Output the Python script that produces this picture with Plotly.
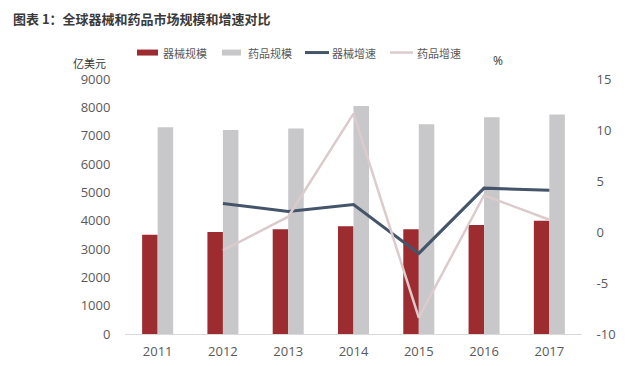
import plotly.graph_objects as go
from plotly.subplots import make_subplots

years = ["2011", "2012", "2013", "2014", "2015", "2016", "2017"]
device_size = [3500, 3600, 3700, 3800, 3700, 3850, 4000]
drug_size = [7300, 7200, 7250, 8050, 7400, 7650, 7750]
device_growth = [None, 2.8, 2.0, 2.7, -2.1, 4.3, 4.1]
drug_growth = [None, -1.8, 1.5, 11.6, -8.4, 3.6, 1.2]

left_ticks = [0, 1000, 2000, 3000, 4000, 5000, 6000, 7000, 8000, 9000]
right_ticks = [-10, -5, 0, 5, 10, 15]
right_labels = ["-10", "-5", "0", "5", "10", "15"]

C_DEV = "#9c2c30"
C_DRUG = "#c8c7c9"
C_DEVG = "#44546a"
C_DRUGG = "#dccbcc"
TXT = "#595959"
FONT = "Open Sans, Noto Sans CJK SC, sans-serif"
CJK = "Noto Sans CJK SC, sans-serif"

fig = make_subplots(specs=[[{"secondary_y": True}]])
fig.add_trace(go.Bar(x=years, y=device_size, name="器械规模", marker_color=C_DEV,
                     marker_line_width=0), secondary_y=False)
fig.add_trace(go.Bar(x=years, y=drug_size, name="药品规模", marker_color=C_DRUG,
                     marker_line_width=0), secondary_y=False)
fig.add_trace(go.Scatter(x=years, y=device_growth, name="器械增速", mode="lines",
                         line=dict(color=C_DEVG, width=3)), secondary_y=True)
fig.add_trace(go.Scatter(x=years, y=drug_growth, name="药品增速", mode="lines",
                         line=dict(color=C_DRUGG, width=2.5)), secondary_y=True)

# page coordinates (browser body has an 8px margin)
OFF = 8
W, H = 640, 366
L, R, T, B = 125, 58, 78.5, 32
pw = W - L - R
ph = H - T - B

def px(x):
    return (x - L) / pw

def py(y):
    return (H - B - y) / ph

shapes = []
annotations = []
legend_items = [
    ("rect", C_DEV, 137, 158, "器械规模", 161),
    ("rect", C_DRUG, 222, 241, "药品规模", 246),
    ("line", C_DEVG, 305, 329, "器械增速", 330),
    ("line", C_DRUGG, 390, 413, "药品增速", 415),
]
ly = 52
for kind, col, x0, x1, label, tx in legend_items:
    if kind == "rect":
        shapes.append(dict(type="rect", xref="paper", yref="paper",
                           x0=px(x0), x1=px(x1), y0=py(ly + 3), y1=py(ly - 3),
                           fillcolor=col, line=dict(width=0)))
    else:
        shapes.append(dict(type="line", xref="paper", yref="paper",
                           x0=px(x0), x1=px(x1), y0=py(ly), y1=py(ly),
                           line=dict(color=col, width=3 if col == C_DEVG else 2.5)))
    annotations.append(dict(text=label, xref="paper", yref="paper", x=px(tx), y=py(ly),
                            xanchor="left", yanchor="middle", showarrow=False,
                            font=dict(family=CJK, size=11, color=TXT)))

annotations.append(dict(text="亿美元", xref="paper", yref="paper", x=px(89), y=py(62),
                        xanchor="center", yanchor="middle", showarrow=False,
                        font=dict(family=CJK, size=11, color="#333333")))
annotations.append(dict(text="%", xref="paper", yref="paper", x=px(498), y=py(60),
                        xanchor="center", yanchor="middle", showarrow=False,
                        font=dict(family=FONT, size=12, color="#333333")))
annotations.append(dict(text="<b>图表 1：全球器械和药品市场规模和增速对比</b>", xref="paper", yref="paper",
                        x=px(11), y=py(17.5), xanchor="left", yanchor="middle", showarrow=False,
                        font=dict(family=CJK, size=13, color="#3a3a3a")))

fig.update_layout(
    width=W - OFF, height=H - OFF,
    margin=dict(l=L - OFF, r=R, t=T - OFF, b=B, pad=0, autoexpand=False),
    paper_bgcolor="#ffffff", plot_bgcolor="#ffffff",
    barmode="group", bargap=0.525, bargroupgap=0,
    showlegend=False,
    shapes=shapes, annotations=annotations,
    font=dict(family=FONT, size=13, color=TXT),
)
fig.update_xaxes(type="category", range=[-0.5, 6.5], domain=[0, 1], showgrid=False, showline=True,
                 linecolor="#d9d9d9", linewidth=1, ticks="outside", ticklen=5,
                 tickcolor="rgba(0,0,0,0)", tickfont=dict(size=13, color=TXT))
fig.update_yaxes(range=[0, 9000], tickvals=left_ticks, showgrid=False, zeroline=False,
                 showline=False, ticks="outside", ticklen=11, tickcolor="rgba(0,0,0,0)",
                 tickfont=dict(size=13, color=TXT), secondary_y=False)
fig.update_yaxes(range=[-10, 15], tickvals=right_ticks, ticktext=right_labels,
                 showgrid=False, zeroline=False,
                 showline=False, ticks="outside", ticklen=11, tickcolor="rgba(0,0,0,0)",
                 tickfont=dict(size=13, color=TXT), secondary_y=True)

fig.write_html("out.html")
